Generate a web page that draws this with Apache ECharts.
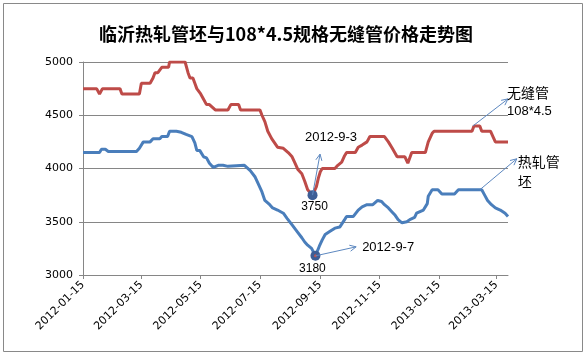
<!DOCTYPE html>
<html>
<head>
<meta charset="utf-8">
<script src="https://cdn.jsdelivr.net/npm/echarts@6/dist/echarts.min.js"></script>
<style>
html,body{margin:0;padding:0;background:#fff;}
#c{width:588px;height:356px;}
</style>
</head>
<body>
<div id="c"></div>
<script>
// ---- data ----
const titleText = '临沂热轧管坯与108*4.5规格无缝管价格走势图';
const tickDates = ['2012-01-15','2012-03-15','2012-05-15','2012-07-15','2012-09-15','2012-11-15','2013-01-15','2013-03-15'];
const axisStart = '2012-01-15';
const axisEnd = '2013-03-27';
const yTicks = [3000, 3500, 4000, 4500, 5000];

const pipeName = '无缝管108*4.5';
const pipeDates = ['2012-01-15','2012-01-29','2012-02-01','2012-02-03','2012-02-04','2012-02-22','2012-02-24','2012-03-13','2012-03-15','2012-03-24','2012-03-27','2012-03-29','2012-04-01','2012-04-05','2012-04-12','2012-04-13','2012-04-29','2012-05-02','2012-05-04','2012-05-07','2012-05-09','2012-05-11','2012-05-13','2012-05-15','2012-05-16','2012-05-18','2012-05-20','2012-05-21','2012-05-24','2012-05-30','2012-06-12','2012-06-15','2012-06-23','2012-06-25','2012-07-15','2012-07-17','2012-07-20','2012-07-23','2012-07-27','2012-07-30','2012-08-02','2012-08-08','2012-08-13','2012-08-17','2012-08-20','2012-08-23','2012-08-27','2012-08-30','2012-09-02','2012-09-07','2012-09-11','2012-09-13','2012-09-15','2012-09-17','2012-09-30','2012-10-03','2012-10-07','2012-10-10','2012-10-12','2012-10-21','2012-10-24','2012-10-28','2012-11-02','2012-11-05','2012-11-07','2012-11-20','2012-11-24','2012-11-28','2012-12-03','2012-12-11','2012-12-14','2012-12-18','2013-01-01','2013-01-04','2013-01-08','2013-01-10','2013-02-18','2013-02-20','2013-02-26','2013-02-28','2013-03-09','2013-03-12','2013-03-14','2013-03-27'];
const pipeValues = [4750,4750,4700,4700,4750,4750,4700,4700,4800,4800,4850,4900,4900,4950,4950,5000,5000,4900,4850,4850,4800,4750,4750,4700,4700,4650,4650,4600,4600,4550,4550,4600,4600,4550,4550,4500,4440,4350,4280,4240,4200,4190,4150,4110,4050,3990,3950,3880,3800,3750,3830,3910,3970,4000,4000,4030,4060,4120,4150,4150,4200,4220,4250,4300,4300,4300,4250,4190,4110,4110,4050,4150,4150,4250,4330,4350,4350,4400,4400,4350,4350,4290,4250,4250];

const billetName = '热轧管坯';
const billetDates = ['2012-01-15','2012-02-01','2012-02-03','2012-02-07','2012-02-10','2012-03-10','2012-03-13','2012-03-17','2012-03-24','2012-03-27','2012-04-03','2012-04-05','2012-04-11','2012-04-13','2012-04-20','2012-04-25','2012-04-30','2012-05-06','2012-05-09','2012-05-11','2012-05-14','2012-05-18','2012-05-21','2012-05-24','2012-05-28','2012-05-30','2012-06-02','2012-06-07','2012-06-09','2012-06-12','2012-06-14','2012-06-29','2012-07-05','2012-07-10','2012-07-13','2012-07-17','2012-07-20','2012-07-25','2012-07-28','2012-08-02','2012-08-08','2012-08-12','2012-08-17','2012-08-22','2012-08-27','2012-08-30','2012-09-02','2012-09-06','2012-09-10','2012-09-14','2012-09-17','2012-09-20','2012-09-25','2012-09-30','2012-10-05','2012-10-10','2012-10-12','2012-10-19','2012-10-24','2012-10-28','2012-11-02','2012-11-08','2012-11-13','2012-11-17','2012-11-20','2012-11-24','2012-11-28','2012-12-01','2012-12-04','2012-12-08','2012-12-13','2012-12-16','2012-12-21','2012-12-23','2012-12-30','2013-01-03','2013-01-04','2013-01-08','2013-01-14','2013-01-18','2013-01-31','2013-02-04','2013-02-28','2013-03-03','2013-03-06','2013-03-10','2013-03-14','2013-03-19','2013-03-24','2013-03-27'];
const billetValues = [4150,4150,4180,4180,4160,4160,4190,4250,4250,4280,4280,4300,4300,4350,4350,4340,4320,4300,4240,4170,4170,4110,4100,4050,4010,4000,4030,4030,4020,4020,4030,4030,3980,3920,3860,3780,3700,3660,3630,3610,3580,3530,3470,3410,3350,3310,3280,3250,3180,3270,3330,3380,3410,3440,3450,3520,3550,3550,3610,3640,3660,3660,3700,3690,3660,3630,3590,3560,3520,3490,3500,3520,3540,3580,3610,3670,3740,3800,3800,3760,3760,3800,3800,3750,3700,3660,3630,3610,3580,3550];

const pipeLow = {date: '2012-09-07', value: 3750, label: '3750', note: '2012-9-3'};
const billetLow = {date: '2012-09-10', value: 3180, label: '3180', note: '2012-9-7'};
const pipeTagAt = {date: '2013-02-19', value: 4400};
const billetTagAt = {date: '2013-02-26', value: 3800};

// ---- helpers ----
function toTs(s) { const p = s.split('-').map(Number); return new Date(p[0], p[1] - 1, p[2]).getTime(); }
function pad(n) { return (n < 10 ? '0' : '') + n; }
function fmt(v) { const d = new Date(v); return d.getFullYear() + '-' + pad(d.getMonth() + 1) + '-' + pad(d.getDate()); }
function pairs(dates, vals) { return dates.map((d, i) => [toTs(d), vals[i]]); }

const RED = '#be4b48', BLUE = '#4a7ebb', AXIS = '#868686', MARK = '#3d5e96', ARROW = '#5d88c0';
const chart = echarts.init(document.getElementById('c'), null, {renderer: 'canvas'});
const tickTs = tickDates.map(toTs);

chart.setOption({
  backgroundColor: '#ffffff',
  animation: false,
  title: {
    text: titleText, left: 94, top: 20,
    textStyle: {fontSize: 18, fontWeight: 'bold', color: '#000', fontFamily: '"Noto Sans CJK SC", sans-serif'}
  },
  grid: {left: 83, right: 80, top: 62, bottom: 81, containLabel: false},
  xAxis: {
    type: 'value', min: toTs(axisStart), max: toTs(axisEnd), scale: true,
    axisLine: {lineStyle: {color: AXIS, width: 1}},
    axisTick: {show: true, length: 4, customValues: tickTs, lineStyle: {color: AXIS}},
    axisLabel: {customValues: tickTs, formatter: v => fmt(v), rotate: 45, margin: 8,
      showMinLabel: true, showMaxLabel: true, hideOverlap: false,
      fontSize: 11, color: '#000', fontFamily: '"DejaVu Sans", sans-serif'},
    splitLine: {show: false}
  },
  yAxis: {
    type: 'value', min: yTicks[0], max: yTicks[yTicks.length - 1], interval: 500,
    axisLine: {show: true, lineStyle: {color: AXIS, width: 1}},
    axisTick: {show: true, length: 4, lineStyle: {color: AXIS}},
    axisLabel: {fontSize: 11, color: '#000', margin: 10, formatter: v => String(v),
      fontFamily: '"DejaVu Sans", sans-serif'},
    splitLine: {show: true, lineStyle: {color: AXIS, width: 1}}
  },
  series: [
    {
      name: pipeName, type: 'line', data: pairs(pipeDates, pipeValues),
      showSymbol: false, symbol: 'none', lineStyle: {color: RED, width: 3}, itemStyle: {color: RED},
      z: 2,
      markPoint: {
        symbol: 'circle', symbolSize: 10, silent: true,
        itemStyle: {color: MARK},
        label: {show: true, position: 'bottom', distance: 1, offset: [2, 0], color: '#000', fontSize: 12,
          fontFamily: '"Liberation Sans", sans-serif', formatter: pipeLow.label},
        data: [{coord: [toTs(pipeLow.date), pipeLow.value]}]
      }
    },
    {
      name: billetName, type: 'line', data: pairs(billetDates, billetValues),
      showSymbol: false, symbol: 'none', lineStyle: {color: BLUE, width: 3}, itemStyle: {color: BLUE},
      z: 3,
      markPoint: {
        symbol: 'circle', silent: true,
        data: [
          {coord: [toTs(billetLow.date), billetLow.value], symbolSize: 10, itemStyle: {color: MARK},
            label: {show: true, position: 'bottom', distance: 2, offset: [-3, 0], color: '#000', fontSize: 12,
              fontFamily: '"Liberation Sans", sans-serif', formatter: billetLow.label}},
          {coord: [toTs(billetLow.date), billetLow.value], symbolSize: 3, itemStyle: {color: '#c0504d'},
            label: {show: false}}
        ]
      }
    }
  ]
});

// ---- annotations (arrows anchored on data points) ----
function px(d, v) { return chart.convertToPixel({gridIndex: 0}, [toTs(d), v]); }
const g = [];
function arrow(p, dx, dy) {
  const ex = p[0] + dx, ey = p[1] + dy, ang = Math.atan2(dy, dx), L = 7, a = 0.45;
  g.push({type: 'line', shape: {x1: p[0], y1: p[1], x2: ex, y2: ey}, style: {stroke: ARROW, lineWidth: 1}, z: 100});
  g.push({type: 'polyline', shape: {points: [
    [ex - L * Math.cos(ang - a), ey - L * Math.sin(ang - a)], [ex, ey],
    [ex - L * Math.cos(ang + a), ey - L * Math.sin(ang + a)]]}, style: {stroke: ARROW, lineWidth: 1, fill: null}, z: 100});
  return [ex, ey];
}
function text(t, x, y, size, family, align) {
  g.push({type: 'text', x: x, y: y, z: 101, style: {text: t, fill: '#000', fontSize: size,
    fontFamily: family, align: align || 'left', verticalAlign: 'middle'}});
}
const LAT = '"Liberation Sans", sans-serif', CJK = '"Noto Sans CJK SC", sans-serif';
let e;
e = arrow(px(pipeLow.date, pipeLow.value), 7.5, -41);
text(pipeLow.note, e[0] + 11, e[1] - 17, 13, LAT, 'center');
e = arrow(px(billetLow.date, billetLow.value), 40.7, -9);
text(billetLow.note, e[0] + 6, e[1] + 0.7, 13, LAT, 'left');
e = arrow(px(pipeTagAt.date, pipeTagAt.value), 35, -27);
text('无缝管', e[0] - 1, e[1] - 6.5, 14, CJK, 'left');
text('108*4.5', e[0] - 1, e[1] + 12.5, 13, LAT, 'left');
e = arrow(px(billetTagAt.date, billetTagAt.value), 37, -31);
text('热轧管', e[0] + 1, e[1] + 3, 14, CJK, 'left');
text('坯', e[0] + 1, e[1] + 22.5, 14, CJK, 'left');
g.push({type: 'rect', shape: {x: 3.5, y: 3.5, width: 579, height: 348}, style: {stroke: '#898989', lineWidth: 1, fill: null}, z: 0, silent: true});
chart.setOption({graphic: g});
</script>
</body>
</html>
